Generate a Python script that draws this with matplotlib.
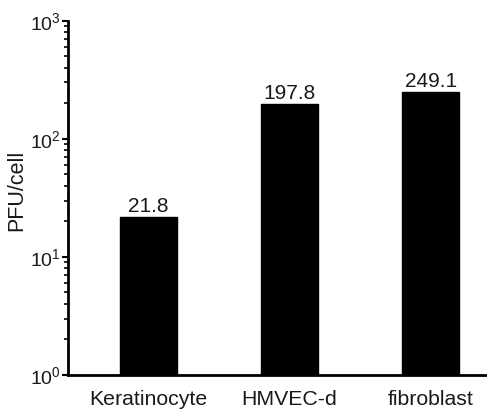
import matplotlib
matplotlib.use("Agg")
import matplotlib.pyplot as plt
from matplotlib.ticker import LogLocator, FixedLocator, NullFormatter

plt.rcParams['font.family'] = ['Liberation Sans', 'DejaVu Sans']
plt.rcParams['mathtext.fontset'] = 'custom'
plt.rcParams['mathtext.rm'] = 'Liberation Sans'
plt.rcParams['mathtext.it'] = 'Liberation Sans'
plt.rcParams['mathtext.bf'] = 'Liberation Sans'

categories = ["Keratinocyte", "HMVEC-d", "fibroblast"]
values = [21.8, 197.8, 249.1]
value_labels = ["21.8", "197.8", "249.1"]
ytick_values = [1, 10, 100, 1000]
ytick_labels = ["10$^{0}$", "10$^{1}$", "10$^{2}$", "10$^{3}$"]

text_color = '#1a1a1a'

fig = plt.figure(figsize=(4.87, 4.11), dpi=100)
ax = fig.add_axes([0.139, 0.0876, 0.861, 0.862])

x = list(range(len(categories)))
ax.bar(x, values, width=0.4, color='black', edgecolor='black')
ax.set_yscale('log')
ax.set_ylim(1, 1000)
ax.set_xlim(-0.574, 2.40)

for xi, v, lab in zip(x, values, value_labels):
    ax.annotate(lab, (xi, v), xytext=(0, 0.5), textcoords='offset points',
                ha='center', va='bottom', fontsize=15, color=text_color)

ax.yaxis.set_major_locator(FixedLocator(ytick_values))
ax.set_yticklabels(ytick_labels)
ax.yaxis.set_minor_locator(LogLocator(base=10, subs=range(2, 10)))
ax.yaxis.set_minor_formatter(NullFormatter())
ax.tick_params(axis='y', which='major', direction='out', length=4, width=1.5,
               labelsize=14, pad=1, labelcolor=text_color)
ax.tick_params(axis='y', which='minor', direction='out', length=3, width=1.2)

ax.set_xticks(x)
ax.set_xticklabels(categories, fontsize=15.3, color=text_color)
ax.tick_params(axis='x', length=0, pad=11)

ax.set_ylabel("PFU/cell", fontsize=15.5, color=text_color)
ax.yaxis.set_label_coords(-0.097, 0.52)

ax.spines['top'].set_visible(False)
ax.spines['right'].set_visible(False)
ax.spines['left'].set_linewidth(2)
ax.spines['bottom'].set_linewidth(2)

fig.savefig("out.png", dpi=100)
